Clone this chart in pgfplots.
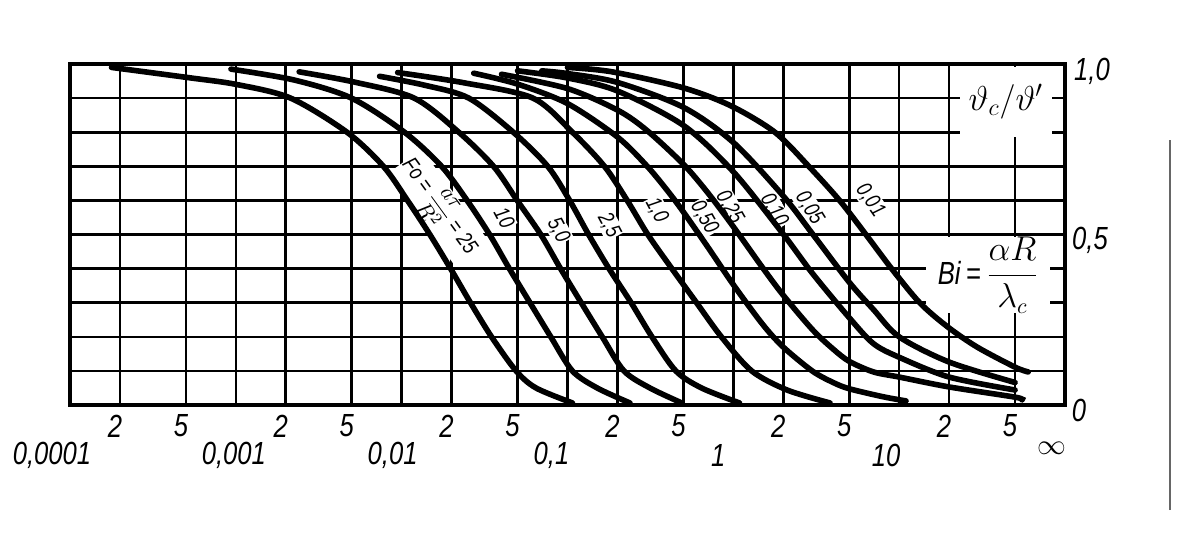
\documentclass[border=0pt]{standalone}
\usepackage{pgfplots}
\pgfplotsset{compat=1.18}
\usepackage{fontspec}
\setmainfont{Liberation Sans}[FakeStretch=0.8]
\begin{document}
\begin{tikzpicture}[x=1pt,y=1pt]
\path[use as bounding box] (-35,-63.5) rectangle (554,202.5);
\begin{axis}[at={(0,0)}, anchor=south west, scale only axis,
  width=497.5pt, height=170.5pt,
  xmode=log, xmin=1e-4, xmax=100, ymin=0, ymax=1,
  xtick={1e-4,2e-4,5e-4,1e-3,2e-3,5e-3,0.01,0.02,0.05,0.1,0.2,0.5,1,2,5,10,20,50,100},
  ytick={0,0.1,0.2,0.3,0.4,0.5,0.6,0.7,0.8,0.9,1},
  xticklabel=\empty, yticklabel=\empty, major tick length=0pt,
  grid=major, major grid style={black, line width=1.3pt},
  axis line style={black, line width=2pt},
  clip=false,
  curve/.style={black, line width=2.8pt, smooth, line cap=round},
]
% boxes and labels (drawn under the curves)
\node[fill=white, minimum width=46pt, minimum height=35pt, inner sep=0pt] at (axis cs:44,0.889) {\fontsize{17}{17}\selectfont$\vartheta_c/\vartheta'$};
\node[fill=white, minimum width=62pt, minimum height=30pt, inner sep=0pt] at (axis cs:34.5,0.381) {\itshape\fontsize{16}{16}\selectfont Bi\,=\,$\displaystyle\frac{\alpha R}{\lambda_c}$};
\begin{scope}[every node/.style={fill=white, inner sep=0.6pt, font=\itshape\fontsize{11}{11}\selectfont}]
\node[rotate=-54] at (axis cs:0.0166,0.58) {Fo = $\displaystyle\frac{a\tau}{R^2}$ = 25};
\node[rotate=-62] at (axis cs:0.0417,0.55) {10};
\node[rotate=-62] at (axis cs:0.088,0.513) {5,0};
\node[rotate=-62] at (axis cs:0.178,0.528) {2,5};
\node[rotate=-62] at (axis cs:0.345,0.572) {1,0};
\node[rotate=-60] at (axis cs:0.67,0.55) {0,50};
\node[rotate=-60] at (axis cs:0.95,0.58) {0,25};
\node[rotate=-60] at (axis cs:1.76,0.572) {0,10};
\node[rotate=-58] at (axis cs:2.88,0.578) {0,05};
\node[rotate=-55] at (axis cs:6.7,0.60) {0,01};
\end{scope}
% Fo = 25
\addplot[curve] coordinates {(1.78e-4,0.99) (5.19e-4,0.96) (1.01e-3,0.94) (2.14e-3,0.9) (4.68e-3,0.8) (7.76e-3,0.7) (0.01084,0.6) (0.01479,0.5) (0.01972,0.4) (0.026,0.3) (0.03483,0.2) (0.04898,0.1) (0.06457,0.05) (0.1072,0.006)};
% Fo = 10
\addplot[curve] coordinates {(9.35e-4,0.985) (2.25e-3,0.953) (4.98e-3,0.9) (0.0104,0.8) (0.0174,0.7) (0.0248,0.6) (0.0339,0.5) (0.0446,0.4) (0.0594,0.3) (0.0793,0.2) (0.107,0.1) (0.151,0.05) (0.238,0.006)};
% Fo = 5
\addplot[curve] coordinates {(2.41e-3,0.977) (5.19e-3,0.947) (0.0119,0.9) (0.0221,0.8) (0.0358,0.7) (0.0497,0.6) (0.069,0.5) (0.0908,0.4) (0.121,0.3) (0.162,0.2) (0.219,0.1) (0.314,0.05) (0.489,0.006)};
% Fo = 2.5
\addplot[curve] coordinates {(7.36e-3,0.964) (0.0137,0.938) (0.0254,0.9) (0.0471,0.8) (0.076,0.7) (0.103,0.6) (0.134,0.5) (0.178,0.4) (0.242,0.3) (0.323,0.2) (0.45,0.1) (0.643,0.05) (1.09,0.006)};
% Fo = 1.0
\addplot[curve] coordinates {(9.46e-3,0.975) (0.0237,0.945) (0.0619,0.9) (0.107,0.8) (0.167,0.7) (0.229,0.6) (0.305,0.5) (0.426,0.4) (0.6,0.3) (0.847,0.2) (1.29,0.1) (2.11,0.044) (3.83,0.006)};
% Fo = 0.5
\addplot[curve] coordinates {(0.0272,0.973) (0.05,0.941) (0.1,0.884) (0.2,0.786) (0.3,0.702) (0.4,0.629) (0.5,0.566) (0.7,0.464) (1.0,0.353) (1.5,0.237) (2,0.170) (3,0.0994) (4,0.066) (5,0.0477) (8,0.0242) (11,0.012)};
% Fo = 0.25
\addplot[curve] coordinates {(0.04,0.97) (0.1,0.928) (0.2,0.865) (0.3,0.806) (0.5,0.706) (0.7,0.623) (1,0.523) (1.5,0.403) (2,0.322) (3,0.221) (4,0.164) (5,0.128) (7,0.097) (10,0.082) (20,0.053) (50,0.023) (55,0.015)};
% Fo = 0.10
\addplot[curve] coordinates {(0.05,0.98) (0.1,0.959) (0.2,0.921) (0.5,0.820) (1,0.684) (2,0.501) (3,0.386) (5,0.256) (7,0.18) (10,0.14) (20,0.082) (50,0.044)};
% Fo = 0.05
\addplot[curve] coordinates {(0.07,0.98) (0.1,0.972) (0.2,0.946) (0.5,0.873) (1,0.770) (2,0.613) (3,0.502) (5,0.360) (7,0.28) (10,0.2) (20,0.126) (50,0.066)};
% Fo = 0.01
\addplot[curve] coordinates {(0.1,0.99) (0.186,0.977) (0.5,0.93) (0.97,0.877) (1.78,0.8) (2.85,0.70) (4.37,0.6) (6.3,0.5) (9.0,0.4) (13.3,0.3) (19.5,0.23) (29.5,0.17) (50,0.111) (60,0.097)};
% tick labels
\begin{scope}[every node/.style={font=\itshape\fontsize{16}{16}\selectfont, inner sep=0pt}]
\node at (axis cs:1e-4,0) [yshift=-25pt, xshift=-9pt] {0,0001};
\node at (axis cs:1e-3,0) [yshift=-25pt, xshift=-1pt] {0,001};
\node at (axis cs:1e-2,0) [yshift=-25pt, xshift=-4.5pt] {0,01};
\node at (axis cs:0.1,0) [yshift=-25pt, xshift=-8pt] {0,1};
\node at (axis cs:1,0) [yshift=-25pt, xshift=-7.5pt] {1};
\node at (axis cs:10,0) [yshift=-25pt, xshift=-6.5pt] {10};
\node at (axis cs:100,0) [yshift=-21.5pt, xshift=-6.5pt] {\fontsize{14}{14}\selectfont$\infty$};
\node at (axis cs:2e-4,0) [yshift=-10.5pt, xshift=-2.5pt] {2};
\node at (axis cs:5e-4,0) [yshift=-10.5pt, xshift=-2.5pt] {5};
\node at (axis cs:2e-3,0) [yshift=-10.5pt, xshift=-2.5pt] {2};
\node at (axis cs:5e-3,0) [yshift=-10.5pt, xshift=-2.5pt] {5};
\node at (axis cs:0.02,0) [yshift=-10.5pt, xshift=-2.5pt] {2};
\node at (axis cs:0.05,0) [yshift=-10.5pt, xshift=-2.5pt] {5};
\node at (axis cs:0.2,0) [yshift=-10.5pt, xshift=-2.5pt] {2};
\node at (axis cs:0.5,0) [yshift=-10.5pt, xshift=-2.5pt] {5};
\node at (axis cs:2,0) [yshift=-10.5pt, xshift=-2.5pt] {2};
\node at (axis cs:5,0) [yshift=-10.5pt, xshift=-2.5pt] {5};
\node at (axis cs:20,0) [yshift=-10.5pt, xshift=-2.5pt] {2};
\node at (axis cs:50,0) [yshift=-10.5pt, xshift=-2.5pt] {5};
\node at (axis cs:100,0.977) [xshift=13.5pt] {1,0};
\node at (axis cs:100,0.484) [xshift=12.5pt] {0,5};
\node at (axis cs:100,-0.015) [xshift=7pt] {0};
\end{scope}
\end{axis}
\draw[line width=0.8pt, black!60] (550,-52.5) -- (550,132.5);
\end{tikzpicture}
\end{document}
